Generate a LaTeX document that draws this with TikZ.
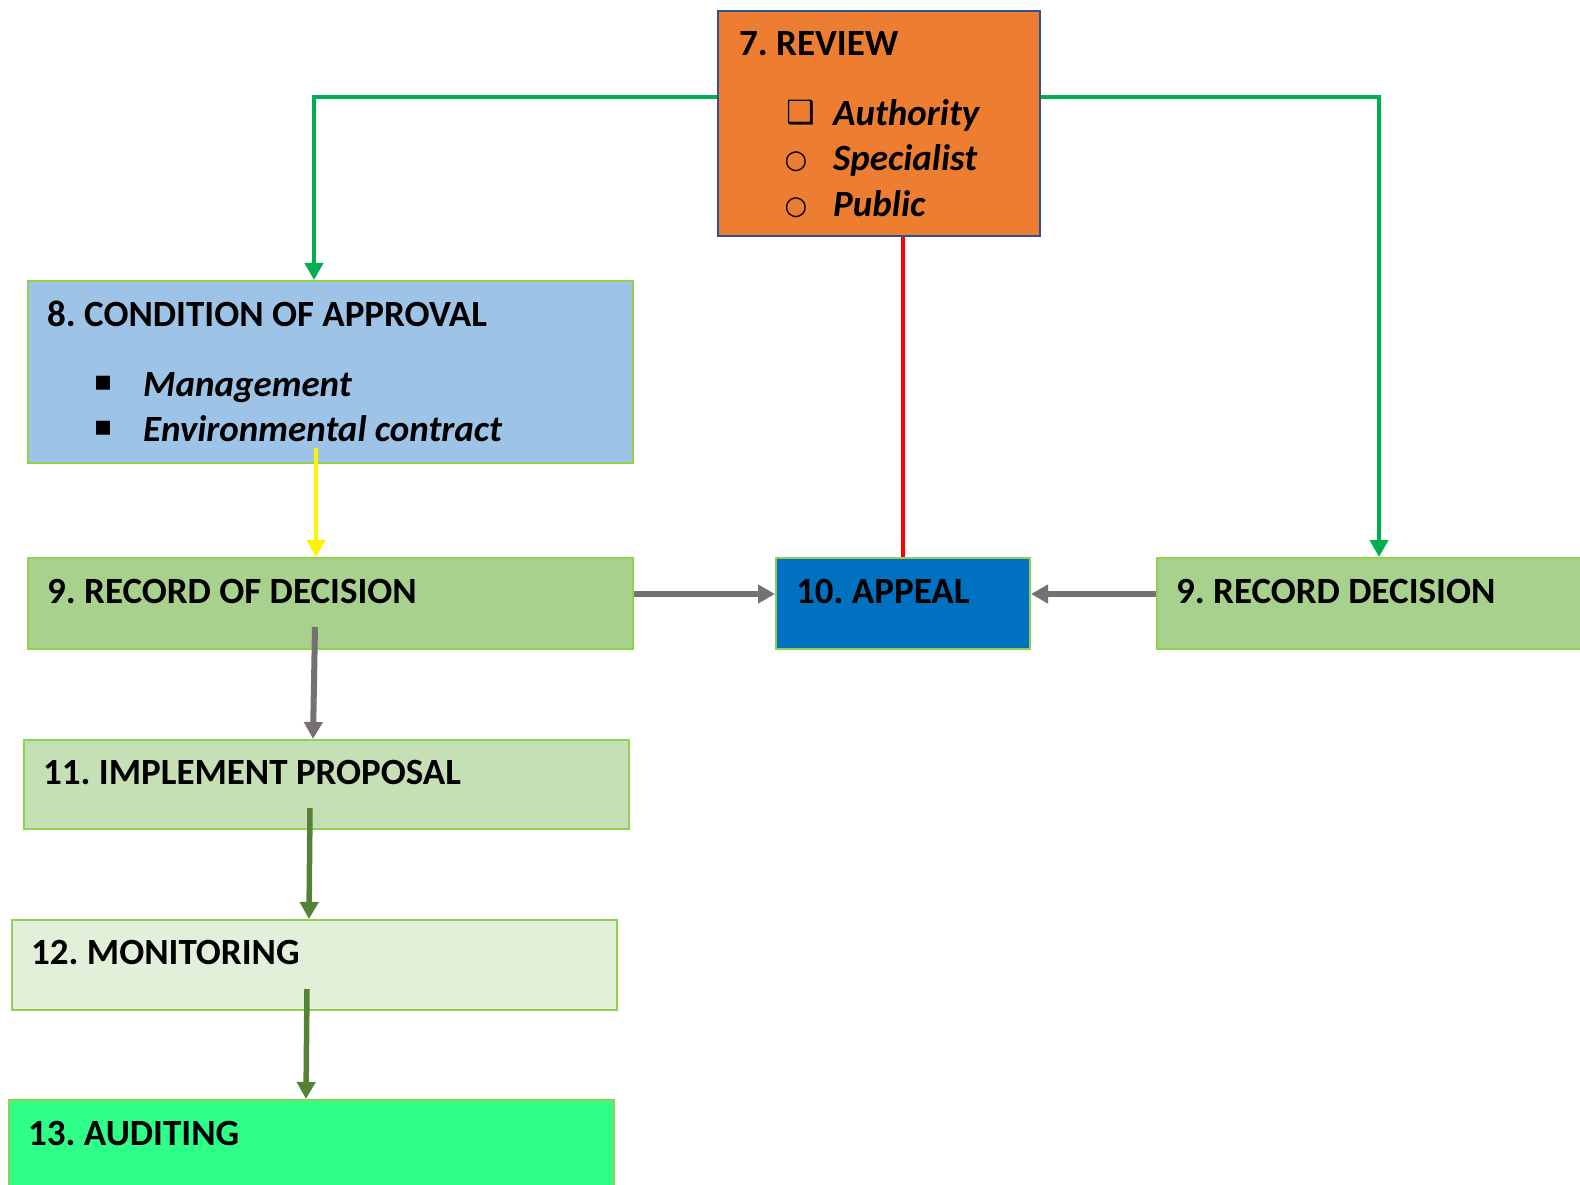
\documentclass[tikz,border=0pt]{standalone}
\usepackage{fontspec}
\setmainfont{Carlito}
\newfontfamily\symfont{DejaVu Sans}
\usetikzlibrary{arrows.meta,positioning}
\definecolor{revieworange}{HTML}{ED7D31}
\definecolor{reviewedge}{HTML}{2F528F}
\definecolor{boxedge}{HTML}{92D050}
\definecolor{condblue}{HTML}{9DC3E6}
\definecolor{recgreen}{HTML}{A9D18E}
\definecolor{appealblue}{HTML}{0070C0}
\definecolor{implgreen}{HTML}{C5E0B4}
\definecolor{monigreen}{HTML}{E2F0D9}
\definecolor{auditgreen}{HTML}{2EFF88}
\definecolor{flowgreen}{HTML}{00B050}
\definecolor{flowgray}{HTML}{767171}
\definecolor{flowdark}{HTML}{548235}
\frenchspacing

\begin{document}
\begin{tikzpicture}[x=1pt,y=-1pt,
    box/.style={draw=boxedge, line width=2pt, anchor=north west, inner sep=0pt},
    title/.style={anchor=base west, inner sep=0pt, font=\fontsize{37}{44}\selectfont\bfseries},
    item/.style={anchor=base west, inner sep=0pt, font=\fontsize{37}{44}\selectfont\bfseries\itshape},
    bulletmark/.style={inner sep=0pt, font=\symfont},
    flow/.style={line width=4.5pt, -{Triangle[width=18pt,length=17pt]}}]
    \useasboundingbox (0,0) rectangle (1580,1185);

    % Boxes
    \node [box, draw=reviewedge, fill=revieworange, minimum width=322pt, minimum height=225pt] (review) at (717,10) {};
    \node [box, fill=condblue, minimum width=605pt, minimum height=182pt] (cond) at (27,280) {};
    \node [box, fill=recgreen, minimum width=605pt, minimum height=91pt] (record) at (27,557) {};
    \node [box, fill=appealblue, minimum width=254pt, minimum height=91pt] (appeal) at (775,557) {};
    \node [box, fill=recgreen, minimum width=444pt, minimum height=91pt] (recright) at (1156,557) {};
    \node [box, fill=implgreen, minimum width=605pt, minimum height=89pt] (impl) at (23,739) {};
    \node [box, fill=monigreen, minimum width=605pt, minimum height=90pt] (moni) at (11,919) {};
    \node [box, fill=auditgreen, minimum width=605pt, minimum height=100pt] (audit) at (8,1099) {};

    % Texts
    \node [title] (reviewtitle) at (739,56) {7. REVIEW};
    \node [bulletmark, font=\symfont\bfseries\fontsize{32}{32}\selectfont] (authmark) at (801,113) {❑};
    \node [item] (auth) at (833,126) {Authority};
    \foreach \yy/\txt/\nm in {171/Specialist/spec, 217/Public/pub} {
        \node [bulletmark, font=\symfont\fontsize{26}{26}\selectfont] (\nm mark) at (796,\yy-9) {○};
        \node [item] (\nm) at (833,\yy) {\txt};
    }
    \node [title] (condtitle) at (47,326) {8. CONDITION OF APPROVAL};
    \foreach \yy/\txt/\nm in {396/Management/mgmt, 441/Environmental contract/envc} {
        \node [bulletmark, font=\symfont\fontsize{28}{28}\selectfont] (\nm mark) at (103,\yy-13) {▪};
        \node [item] (\nm) at (143,\yy) {\txt};
    }
    \node [title] (recordtitle) at (47,603) {9. RECORD OF DECISION};
    \node [title] (appealtitle) at (796,603) {10. APPEAL};
    \node [title] (recrighttitle) at (1176,603) {9. RECORD DECISION};
    \node [title] (impltitle) at (43,784) {11. IMPLEMENT PROPOSAL};
    \node [title] (monititle) at (31,964) {12. MONITORING};
    \node [title] (audittitle) at (28,1145) {13. AUDITING};

    % Connections
    \coordinate (condfoot) at (316,448);
    \coordinate (recordfoot) at (315,627);
    \coordinate (implfoot) at (310,808);
    \coordinate (monifoot) at (307,989);
    \draw [flow, flowgreen] ([yshift=26.5pt]review.west) -| ([xshift=-16.5pt]cond.north);
    \draw [flow, flowgreen] ([yshift=26.5pt]review.east) -| (recright.north);
    \draw [line width=4.5pt, red] (appeal.north) -- (appeal.north |- review.south);
    \draw [flow, yellow] (condfoot) -- (condfoot |- record.north);
    \draw [flow, flowgray, line width=6pt] ([yshift=9.5pt]record.east) -- ([yshift=9.5pt]appeal.west);
    \draw [flow, flowgray, line width=6pt] ([yshift=9.5pt]recright.west) -- ([yshift=9.5pt]appeal.east);
    \draw [flow, flowgray, line width=6pt] (recordfoot) -- ([xshift=-13.5pt]impl.north);
    \draw [flow, flowdark, line width=5.5pt] (implfoot) -- ([xshift=-5.5pt]moni.north);
    \draw [flow, flowdark, line width=5.5pt] (monifoot) -- ([xshift=-5.5pt]audit.north);
\end{tikzpicture}
\end{document}
